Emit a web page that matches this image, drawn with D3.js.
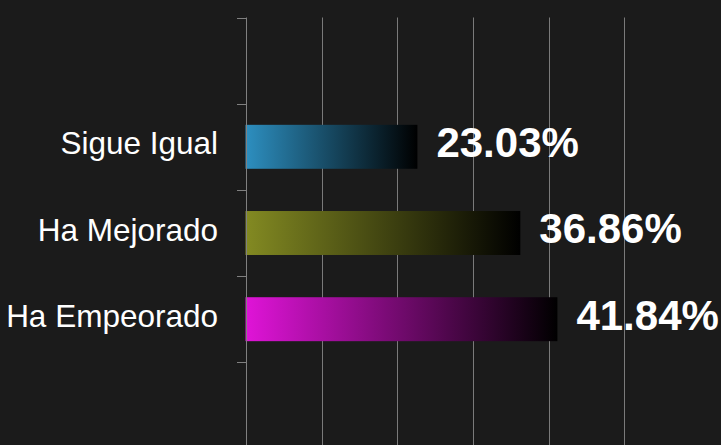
<!DOCTYPE html>
<html>
<head>
<meta charset="utf-8">
<script src="https://cdn.jsdelivr.net/npm/d3@7"></script>
<style>
  html, body { margin: 0; padding: 0; background: #1b1b1b; }
  svg { display: block; }
</style>
</head>
<body>
<svg id="chart" width="721" height="445"></svg>
<script>
const categories = ["Sigue Igual", "Ha Mejorado", "Ha Empeorado"];
const values = [23.03, 36.86, 41.84];
const valueLabels = ["23.03%", "36.86%", "41.84%"];
const barColors = ["#2d8fc0", "#838a22", "#e014d8"];
const xMax = 61;          // axis maximum (plot spans 6 equal grid divisions)
const gridDivisions = 6;

const W = 721, H = 445;
const svg = d3.select("#chart");

svg.append("rect").attr("width", W).attr("height", H).attr("fill", "#1b1b1b");

const x = d3.scaleLinear().domain([0, xMax]).range([246, 700]);
const y = d3.scaleBand().domain(categories).range([103.7, 362.3])
  .paddingInner(0.49).paddingOuter(0.245);

const plotTop = y.range()[0] - y.step();
const gridTicks = d3.range(1, gridDivisions).map(i => xMax * i / gridDivisions);

// gradients
const defs = svg.append("defs");
categories.forEach((c, i) => {
  const g = defs.append("linearGradient").attr("id", "g" + i)
    .attr("x1", "0%").attr("x2", "100%").attr("y1", "0%").attr("y2", "0%");
  g.append("stop").attr("offset", "0%").attr("stop-color", barColors[i]);
  g.append("stop").attr("offset", "100%").attr("stop-color", "#000000");
});

// grid lines
svg.append("g").selectAll("line").data(gridTicks).join("line")
  .attr("x1", d => Math.round(x(d)) + 0.5).attr("x2", d => Math.round(x(d)) + 0.5)
  .attr("y1", plotTop).attr("y2", H)
  .attr("stroke", "#7a7a7a").attr("stroke-width", 1);

// bars
svg.append("g").selectAll("rect").data(values).join("rect")
  .attr("x", x(0) - 0.5)
  .attr("y", (d, i) => y(categories[i]))
  .attr("width", d => x(d) - x(0) + 0.5)
  .attr("height", y.bandwidth())
  .attr("fill", (d, i) => `url(#g${i})`);

// axis line + boundary ticks
const boundaries = d3.range(-1, categories.length + 2).map(i => y.range()[0] + i * y.step());
svg.append("line")
  .attr("x1", x(0) + 0.5).attr("x2", x(0) + 0.5)
  .attr("y1", plotTop).attr("y2", H)
  .attr("stroke", "#808080").attr("stroke-width", 1);
svg.append("g").selectAll("line").data(boundaries).join("line")
  .attr("x1", x(0) - 9).attr("x2", x(0) + 0.5)
  .attr("y1", d => Math.round(d) + 0.5).attr("y2", d => Math.round(d) + 0.5)
  .attr("stroke", "#808080").attr("stroke-width", 1);

// category labels
svg.append("g").selectAll("text").data(categories).join("text")
  .attr("x", 218)
  .attr("y", d => y(d) + y.bandwidth() / 2 + 7.5)
  .attr("text-anchor", "end")
  .attr("fill", "#ffffff")
  .style("font-family", "'Liberation Sans', Arial, sans-serif")
  .style("font-size", "31.5px")
  .text(d => d);

// value labels
svg.append("g").selectAll("text").data(values).join("text")
  .attr("x", d => x(d) + 19)
  .attr("y", (d, i) => y(categories[i]) + y.bandwidth() / 2 + 10.3)
  .attr("fill", "#ffffff")
  .style("font-family", "'Liberation Sans', Arial, sans-serif")
  .style("font-size", "42px")
  .style("font-weight", "bold")
  .text((d, i) => valueLabels[i]);
</script>
</body>
</html>
